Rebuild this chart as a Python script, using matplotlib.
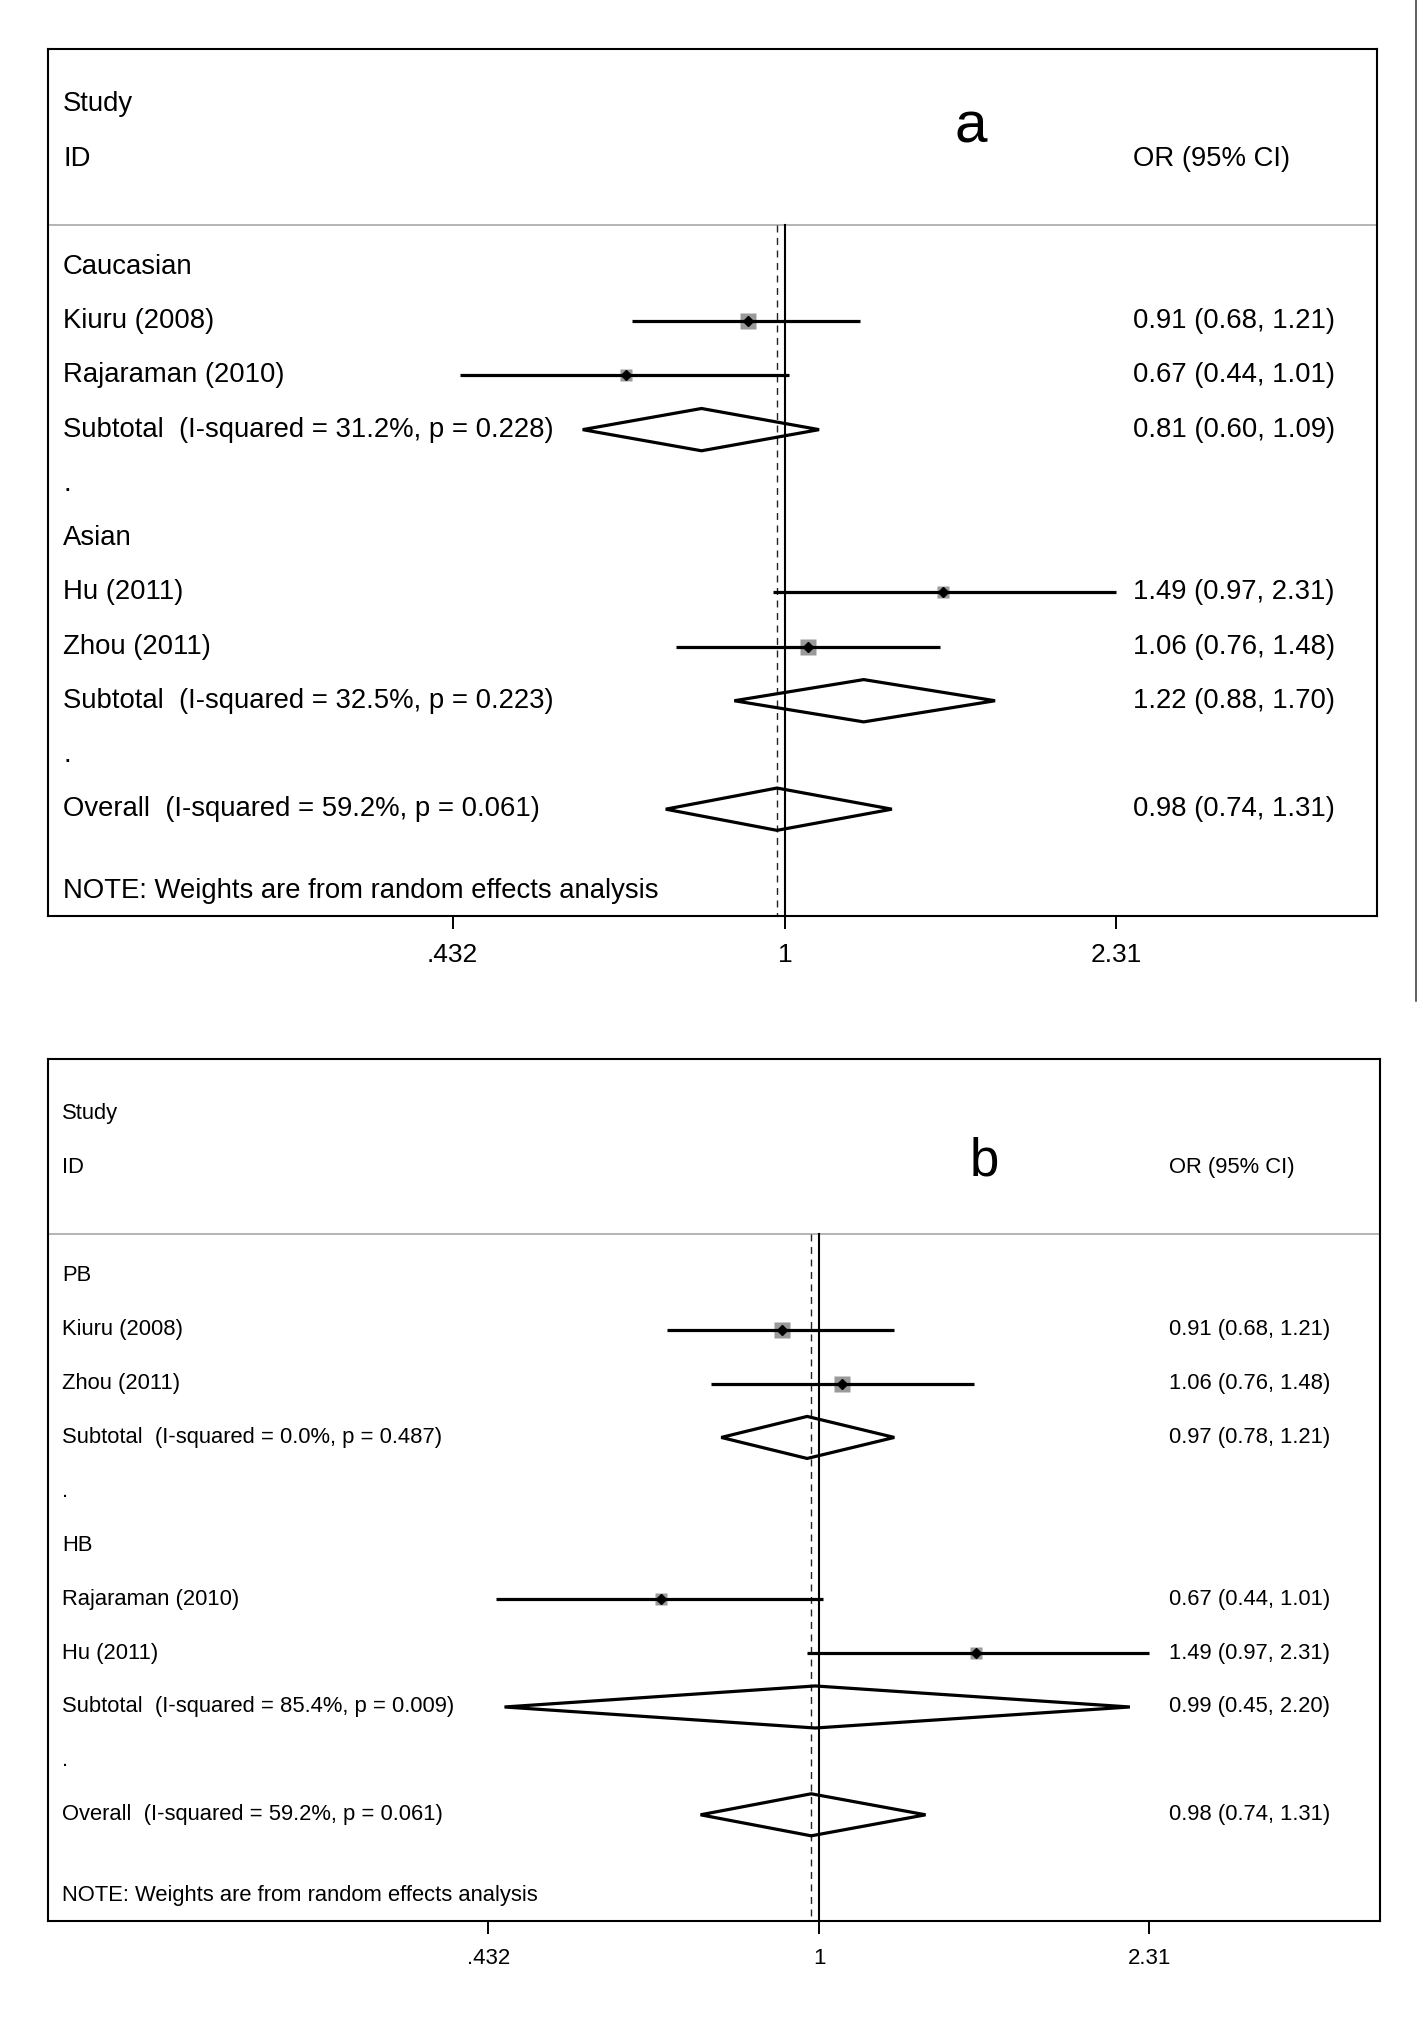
import numpy as np
import matplotlib
matplotlib.use('Agg')
import matplotlib.pyplot as plt
from matplotlib.patches import Polygon
from matplotlib.lines import Line2D
import matplotlib.transforms as mtransforms

plt.rcParams['font.family'] = ['Liberation Sans', 'DejaVu Sans']

# ---- panel a : ethnicity ----
labels_a = ['Caucasian', 'Kiuru (2008)', 'Rajaraman (2010)',
            'Subtotal  (I-squared = 31.2%, p = 0.228)', '.',
            'Asian', 'Hu (2011)', 'Zhou (2011)',
            'Subtotal  (I-squared = 32.5%, p = 0.223)', '.',
            'Overall  (I-squared = 59.2%, p = 0.061)']
kinds_a = ['group', 'study', 'study', 'pooled', 'blank',
           'group', 'study', 'study', 'pooled', 'blank', 'pooled']
or_a = [np.nan, 0.91, 0.67, 0.81, np.nan, np.nan, 1.49, 1.06, 1.22, np.nan, 0.98]
lo_a = [np.nan, 0.68, 0.44, 0.60, np.nan, np.nan, 0.97, 0.76, 0.88, np.nan, 0.74]
hi_a = [np.nan, 1.21, 1.01, 1.09, np.nan, np.nan, 2.31, 1.48, 1.70, np.nan, 1.31]
weight_a = [0, 30.6, 19.8, 0, 0, 0, 18.5, 31.1, 0, 0, 0]

# ---- panel b : source of controls ----
labels_b = ['PB', 'Kiuru (2008)', 'Zhou (2011)',
            'Subtotal  (I-squared = 0.0%, p = 0.487)', '.',
            'HB', 'Rajaraman (2010)', 'Hu (2011)',
            'Subtotal  (I-squared = 85.4%, p = 0.009)', '.',
            'Overall  (I-squared = 59.2%, p = 0.061)']
kinds_b = kinds_a
or_b = [np.nan, 0.91, 1.06, 0.97, np.nan, np.nan, 0.67, 1.49, 0.99, np.nan, 0.98]
lo_b = [np.nan, 0.68, 0.76, 0.78, np.nan, np.nan, 0.44, 0.97, 0.45, np.nan, 0.74]
hi_b = [np.nan, 1.21, 1.48, 1.21, np.nan, np.nan, 1.01, 2.31, 2.20, np.nan, 1.31]
weight_b = [0, 30.6, 31.1, 0, 0, 0, 19.8, 18.5, 0, 0, 0]

xticks = [0.432, 1, 2.31]
xtick_labels = ['.432', '1', '2.31']

W, H = 1417, 2025
fig = plt.figure(figsize=(W / 100, H / 100), dpi=100)


def fmt_or(o, l, h):
    return '%.2f (%.2f, %.2f)' % (o, l, h)


def forest(box, xlim, labels, kinds, ors, los, his, weights, tag,
           fs, tick_fs, tag_fs, txt_x, or_x, tag_x, tag_y):
    # box = (left, top, right, bottom) in pixels
    l, t, r, b = box
    ax = fig.add_axes([l / W, 1 - b / H, (r - l) / W, (b - t) / H])
    ax.set_xscale('log')
    ax.set_xlim(*xlim)
    ax.set_ylim(11.97, -4.02)
    for s in ax.spines.values():
        s.set_linewidth(1.5)
    ax.set_yticks([])
    ax.set_xticks(xticks)
    ax.set_xticklabels(xtick_labels, fontsize=tick_fs)
    ax.xaxis.set_minor_locator(matplotlib.ticker.NullLocator())
    ax.tick_params(axis='x', direction='out', length=9.5, width=1.4, pad=10)

    tr = mtransforms.blended_transform_factory(ax.transAxes, ax.transData)
    head_y = -0.78
    ax.axhline(head_y, color='#a8a8a8', lw=1.2)

    overall = ors[-1]
    ax.plot([1, 1], [head_y, 11.97], color='black', lw=1.5, zorder=2)
    ax.plot([overall, overall], [head_y, 11.97], color='#222222', lw=1.0,
            dashes=(5, 4), zorder=2)

    ax.text(txt_x, -3.0, 'Study', transform=tr, fontsize=fs, va='center')
    ax.text(txt_x, -2.0, 'ID', transform=tr, fontsize=fs, va='center')
    ax.text(or_x, -2.0, 'OR (95% CI)', transform=tr, fontsize=fs, va='center')
    ax.text(tag_x, tag_y, tag, transform=tr, fontsize=tag_fs,
            ha='center', va='baseline')

    for i, lab in enumerate(labels):
        ax.text(txt_x, i, lab, transform=tr, fontsize=fs, va='center')
        k = kinds[i]
        if k == 'study':
            side = 2.8 * np.sqrt(weights[i]) * 0.72
            ax.plot(ors[i], i, marker='s', ms=side, color='#9a9a9a',
                    mec='none', zorder=3)
            ax.plot([los[i], his[i]], [i, i], color='black', lw=2.3,
                    solid_capstyle='butt', zorder=4)
            ax.plot(ors[i], i, marker='D', ms=5.2, color='black', zorder=5)
        if k == 'pooled':
            hh = 0.39
            pts = [(los[i], i), (ors[i], i - hh), (his[i], i), (ors[i], i + hh)]
            ax.add_patch(Polygon(pts, closed=True, fill=False,
                                 edgecolor='black', lw=2.3, zorder=4))
        if k in ('study', 'pooled'):
            ax.text(or_x, i, fmt_or(ors[i], los[i], his[i]), transform=tr,
                    fontsize=fs, va='center')

    ax.text(txt_x, 11.5, 'NOTE: Weights are from random effects analysis',
            transform=tr, fontsize=fs, va='center')
    return ax


forest((48, 49, 1377, 916), (0.1555, 4.46), labels_a, kinds_a, or_a, lo_a, hi_a,
       weight_a, 'a', 19.8, 19, 42, 0.0113, 0.8164, 0.694, -2.29)
forest((48, 1059, 1380, 1921), (0.1413, 4.15), labels_b, kinds_b, or_b, lo_b, hi_b,
       weight_b, 'b', 15.8, 16, 38, 0.0105, 0.8416, 0.703, -1.86)

# stray border from the neighbouring figure on the right edge
fig.add_artist(Line2D([1415.5 / W, 1415.5 / W], [1, 1 - 1001 / H],
                      transform=fig.transFigure, color='#333333', lw=1.1))

fig.savefig('out.png', dpi=100)
